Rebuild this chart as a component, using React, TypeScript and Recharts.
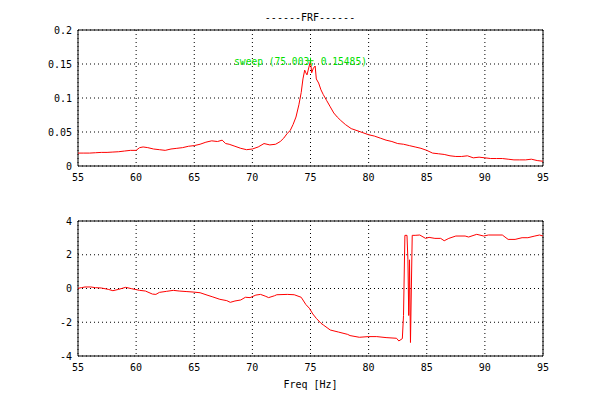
import React from 'react';
import {
  CartesianGrid,
  Label,
  Line,
  LineChart,
  ReferenceArea,
  ReferenceDot,
  XAxis,
  YAxis,
} from 'recharts';

const freqTicks = [55, 60, 65, 70, 75, 80, 85, 90, 95];
const magTicks = [0, 0.05, 0.1, 0.15, 0.2];
const phaseTicks = [-4, -2, 0, 2, 4];

// magnitude |H(f)|
const magFreq = [
  55.0, 55.5, 56.0, 56.5, 57.0, 57.5, 58.0, 58.5, 59.0, 59.5, 60.0, 60.3, 60.6, 61.0, 61.5,
  62.0, 62.5, 63.0, 63.5, 64.0, 64.5, 65.0, 65.5, 66.0, 66.5, 67.0, 67.4, 67.7, 68.0, 68.5,
  69.0, 69.5, 70.0, 70.5, 71.0, 71.5, 72.0, 72.4, 72.7, 73.0, 73.25, 73.5, 73.75, 74.0, 74.2,
  74.35, 74.5, 74.6, 74.7, 74.8, 75.003, 75.1, 75.25, 75.4, 75.5, 75.7, 75.9, 76.1, 76.4, 76.7,
  77.0, 77.3, 77.6, 78.0, 78.5, 79.0, 79.5, 80.0, 80.5, 81.0, 81.5, 82.0, 82.5, 83.0, 83.5,
  84.0, 84.5, 85.0, 85.5, 86.0, 86.5, 87.0, 87.5, 88.0, 88.5, 89.0, 89.5, 90.0, 90.5, 91.0,
  91.5, 92.0, 92.5, 93.0, 93.5, 94.0, 94.5, 95.0,
];
const magValues = [
  0.019, 0.019, 0.019, 0.0195, 0.02, 0.02, 0.0205, 0.021, 0.022, 0.023, 0.023, 0.027, 0.028, 0.027, 0.025,
  0.024, 0.023, 0.025, 0.026, 0.027, 0.029, 0.03, 0.032, 0.035, 0.037, 0.036, 0.038, 0.033, 0.032, 0.029,
  0.026, 0.024, 0.025, 0.028, 0.033, 0.031, 0.032, 0.036, 0.041, 0.048, 0.052, 0.061, 0.072, 0.09, 0.108,
  0.128, 0.141, 0.137, 0.134, 0.141, 0.15485, 0.137, 0.144, 0.147, 0.128, 0.122, 0.112, 0.105, 0.096, 0.087,
  0.078, 0.072, 0.067, 0.061, 0.055, 0.052, 0.049, 0.046, 0.044, 0.041, 0.038, 0.036, 0.033, 0.032, 0.03,
  0.028, 0.026, 0.023, 0.019, 0.018, 0.017, 0.015, 0.014, 0.014, 0.015, 0.012, 0.013, 0.012, 0.011, 0.011,
  0.011, 0.01, 0.009, 0.009, 0.009, 0.01, 0.008, 0.007,
];

// phase [rad]
const phaseFreq = [
  55.0, 55.3, 55.6, 56.1, 56.5, 57.0, 57.6, 58.0, 58.5, 59.1, 59.6, 60.3, 60.8, 61.4, 61.7,
  62.0, 62.6, 63.2, 63.7, 64.3, 64.9, 65.5, 66.1, 66.6, 67.2, 67.8, 68.1, 68.5, 69.0, 69.4,
  69.8, 70.3, 70.7, 71.1, 71.4, 71.9, 72.1, 73.0, 73.6, 74.2, 74.6, 74.9, 75.2, 75.5, 75.9,
  76.1, 76.5, 76.7, 77.4, 78.2, 78.4, 79.2, 80.0, 80.7, 81.5, 82.4, 82.6, 82.9, 83.0, 83.12,
  83.3, 83.38, 83.45, 83.52, 83.6, 83.75, 84.0, 84.4, 84.9, 85.2, 85.7, 86.2, 86.5, 86.9, 87.5,
  88.3, 88.6, 89.3, 89.9, 90.3, 91.5, 92.0, 92.6, 93.2, 93.7, 94.3, 94.7, 95.0,
];
const phaseValues = [
  0.01, 0.05, 0.09, 0.09, 0.05, 0.03, -0.05, -0.13, -0.05, 0.07, -0.01, -0.11, -0.15, -0.33, -0.35,
  -0.23, -0.17, -0.11, -0.15, -0.18, -0.21, -0.25, -0.39, -0.5, -0.64, -0.72, -0.82, -0.74, -0.68, -0.52,
  -0.54, -0.39, -0.35, -0.45, -0.54, -0.43, -0.37, -0.35, -0.37, -0.52, -0.95, -1.17, -1.51, -1.77, -2.06,
  -2.16, -2.36, -2.46, -2.58, -2.72, -2.79, -2.89, -2.85, -2.85, -2.91, -2.95, -3.11, -2.97, -1.6, 3.15,
  3.15, 1.7, -1.6, 1.7, -3.2, 3.15, 3.15, 3.17, 2.97, 3.03, 2.97, 2.97, 2.83, 2.97, 3.11,
  3.11, 3.05, 3.21, 3.11, 3.17, 3.17, 2.91, 2.91, 3.01, 3.01, 3.11, 3.17, 3.11,
];

const peakFreq = 75.003;
const peakMag = 0.15485;

const magData = magFreq.map((f, i) => ({ f, mag: magValues[i] }));
const phaseData = phaseFreq.map((f, i) => ({ f, phase: phaseValues[i] }));

const FONT = 'DejaVu Sans Mono';
const GREEN = '#00e000';
const tickStyle = { fontFamily: FONT, fontSize: 10, fill: '#000' };

function SweepMarker(props: any) {
  const { cx, cy } = props;
  return (
    <g>
      <line x1={cx - 3} x2={cx + 3} y1={cy} y2={cy} stroke={GREEN} />
      <line x1={cx} x2={cx} y1={cy - 3} y2={cy + 3} stroke={GREEN} />
      <text x={cx - 10} y={cy + 4.5} textAnchor="middle" fontFamily={FONT} fontSize={9.6} fill={GREEN}>
        sweep (75.003, 0.15485)
      </text>
    </g>
  );
}

export default function App() {
  return (
    <div style={{ position: 'absolute', left: 0, top: 0, width: 600, height: 400, background: '#fff' }}>
      <div
        style={{
          position: 'absolute',
          left: 210,
          width: 200,
          top: 12,
          lineHeight: '12px',
          textAlign: 'center',
          fontFamily: FONT,
          fontSize: 10,
        }}
      >
        ------FRF------
      </div>
      <div style={{ position: 'absolute', left: 0, top: 0 }}>
        <LineChart width={600} height={200} data={magData} margin={{ top: 30, right: 57, bottom: 4, left: 18 }}>
          <CartesianGrid stroke="#000" strokeDasharray="1 3" />
          <XAxis
            type="number"
            dataKey="f"
            domain={[55, 95]}
            ticks={freqTicks}
            height={30}
            tickLine={false}
            axisLine={false}
            tick={tickStyle}
            allowDataOverflow
          />
          <YAxis
            type="number"
            domain={[0, 0.2]}
            ticks={magTicks}
            width={60}
            tickLine={false}
            axisLine={false}
            tickMargin={0}
            tick={tickStyle}
            allowDataOverflow
          />
          <ReferenceArea x1={55} x2={95} y1={0} y2={0.2} fill="none" stroke="#000" strokeWidth={1} />
          <Line type="linear" dataKey="mag" stroke="#ff0000" strokeWidth={1} dot={false} isAnimationActive={false} />
          <ReferenceDot x={peakFreq} y={peakMag} shape={SweepMarker} />
        </LineChart>
      </div>
      <div style={{ position: 'absolute', left: 0, top: 200 }}>
        <LineChart width={600} height={200} data={phaseData} margin={{ top: 21, right: 57, bottom: 14, left: 18 }}>
          <CartesianGrid stroke="#000" strokeDasharray="1 3" />
          <XAxis
            type="number"
            dataKey="f"
            domain={[55, 95]}
            ticks={freqTicks}
            height={30}
            tickLine={false}
            axisLine={false}
            tick={tickStyle}
            allowDataOverflow
          >
            <Label value="Freq [Hz]" position="insideBottom" offset={-2} style={{ fontFamily: FONT, fontSize: 10, fill: '#000' }} />
          </XAxis>
          <YAxis
            type="number"
            domain={[-4, 4]}
            ticks={phaseTicks}
            width={60}
            tickLine={false}
            axisLine={false}
            tickMargin={0}
            tick={tickStyle}
            allowDataOverflow
          />
          <ReferenceArea x1={55} x2={95} y1={-4} y2={4} fill="none" stroke="#000" strokeWidth={1} />
          <Line type="linear" dataKey="phase" stroke="#ff0000" strokeWidth={1} dot={false} isAnimationActive={false} />
        </LineChart>
      </div>
    </div>
  );
}
